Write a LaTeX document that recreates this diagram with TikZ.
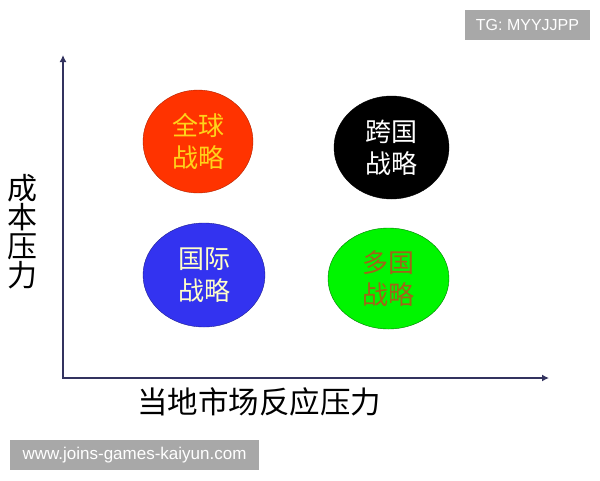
\documentclass[tikz,border=0pt]{standalone}
\usepackage{fontspec}
\setmainfont{Liberation Sans}
\newfontfamily\cjk{Noto Sans CJK SC}
\usetikzlibrary{shapes.geometric,arrows.meta}
\definecolor{axisblue}{HTML}{33335F}
\definecolor{globalred}{HTML}{FF3300}
\definecolor{intlblue}{HTML}{3333F0}
\definecolor{multigreen}{HTML}{00F500}
\definecolor{goldtext}{HTML}{FFD21A}
\definecolor{creamtext}{HTML}{FFFFC8}
\definecolor{browntext}{HTML}{A06418}
\definecolor{markgray}{HTML}{A8A8A8}

\begin{document}
\begin{tikzpicture}[x=1pt,y=-1pt,
stratnode/.style={ellipse, inner sep=0pt, align=center, font=\cjk\fontsize{26}{32}\selectfont},
axislabel/.style={inner sep=0pt, align=center, font=\cjk\fontsize{30}{29}\selectfont},
marknode/.style={fill=markgray, text=white, inner sep=0pt, minimum height=30pt},
]
\useasboundingbox (0,0) rectangle (600,480);
%Nodes
\node[stratnode, fill=globalred, draw=globalred!70!black, text=goldtext, minimum width=110pt, minimum height=103pt] (global) at (198,141.5) {全球\\战略};
\node[stratnode, fill=black, draw=black, text=white, minimum width=115pt, minimum height=103pt] (trans) at (391.5,147.5) {跨国\\战略};
\node[stratnode, fill=intlblue, draw=intlblue!60!black, text=creamtext, minimum width=122pt, minimum height=104pt] (intl) at (204,275) {国际\\战略};
\node[stratnode, fill=multigreen, draw=multigreen!50!black, text=browntext, minimum width=121pt, minimum height=101pt] (multi) at (388.5,278.5) {多国\\战略};
\node[axislabel] (cost) at (23,232) {成\\本\\压\\力};
\node[axislabel, anchor=west, font=\cjk\fontsize{30.5}{30}\selectfont] (local) at (137,402) {当地市场反应压力};
\node[marknode, minimum width=125pt, font=\fontsize{16}{16}\selectfont] (tg) at (527.5,25) {TG: MYYJJPP};
\node[marknode, minimum width=249pt, font=\fontsize{17}{17}\selectfont] (site) at (134.5,455) {www.joins-games-kaiyun.com};

%Lines
\coordinate (o) at (63,378);
\coordinate (ytop) at (63,55);
\coordinate (xend) at (549,378);
\draw[{Latex[length=7pt,width=7pt]}-{Latex[length=7pt,width=7pt]}, axisblue, line width=1.8pt] (ytop) -- (o) -- (xend);
\end{tikzpicture}
\end{document}
